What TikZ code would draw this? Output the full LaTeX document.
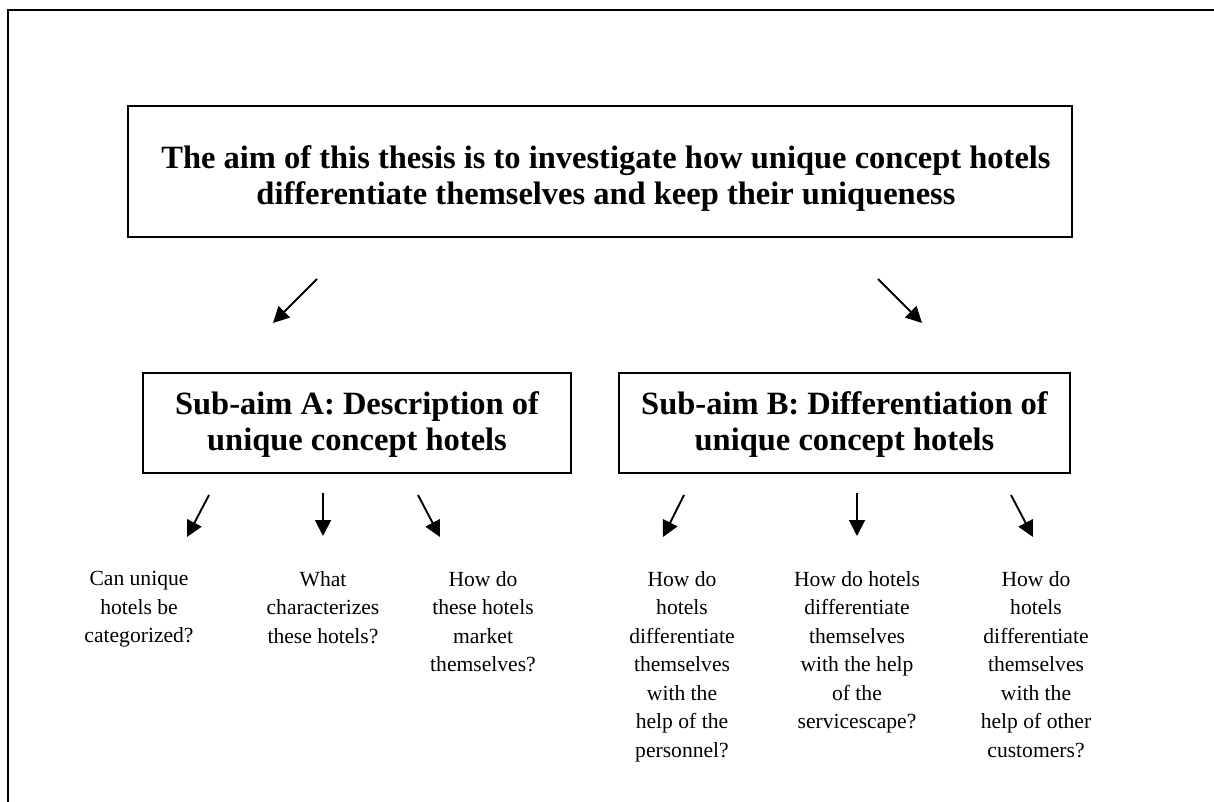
\documentclass[tikz,border=0pt]{standalone}
\usepackage{fontspec}
\setmainfont{Liberation Serif}
\usetikzlibrary{arrows.meta}
\begin{document}
\begin{tikzpicture}[x=1pt,y=-1pt,
  boxnode/.style={draw,line width=1.8pt,inner sep=0pt},
  boxtext/.style={align=center,inner sep=0pt,
    font=\fontsize{32.5}{36}\selectfont\bfseries},
  qnode/.style={align=center,inner sep=0pt,anchor=north,
    font=\fontsize{21.6}{28.5}\selectfont},
  arr/.style={line width=1.9pt,-{Triangle[length=16pt,width=16pt]}}]
\useasboundingbox (0,0) rectangle (1214,802);
\draw[line width=2.4pt] (1214,10) -- (8,10) -- (8,802);
\node[boxnode,minimum width=944pt,minimum height=131pt] (aim) at (600,171.5) {};
\node[boxtext] (aimtext) at ([xshift=6pt,yshift=-7pt]aim.center)
  {The aim of this thesis is to investigate how unique concept hotels\\differentiate themselves and keep their uniqueness};
\node[boxnode,minimum width=428pt,minimum height=100pt] (suba) at (357,423) {};
\node[boxtext] (subatext) at ([yshift=-2pt]suba.center)
  {Sub-aim A: Description of\\unique concept hotels};
\node[boxnode,minimum width=451pt,minimum height=100pt] (subb) at (844.5,423) {};
\node[boxtext] (subbtext) at ([yshift=-2pt]subb.center)
  {Sub-aim B: Differentiation of\\unique concept hotels};
\coordinate (a1s) at (317,279); \coordinate (a1e) at (273,323);
\coordinate (a2s) at (878,279); \coordinate (a2e) at (922,323);
\draw[arr] (a1s) -- (a1e);
\draw[arr] (a2s) -- (a2e);
\node[qnode] (q1) at (139,571) {Can unique\\hotels be\\categorized?};
\node[qnode] (q2) at (323,571) {What\\characterizes\\these hotels?};
\node[qnode] (q3) at (483,571) {How do\\these hotels\\market\\themselves?};
\node[qnode] (q4) at (682,571) {How do\\hotels\\differentiate\\themselves\\with the\\help of the\\personnel?};
\node[qnode] (q5) at (857,571) {How do hotels\\differentiate\\themselves\\with the help\\of the\\servicescape?};
\node[qnode] (q6) at (1036,571) {How do\\hotels\\differentiate\\themselves\\with the\\help of other\\customers?};
\coordinate (b1s) at (209,495); \coordinate (b1e) at (187,537);
\coordinate (b2s) at (323,493); \coordinate (b2e) at (323,536);
\coordinate (b3s) at (418,495); \coordinate (b3e) at (440,537);
\coordinate (b4s) at (684,495); \coordinate (b4e) at (663,537);
\coordinate (b5s) at (857,493); \coordinate (b5e) at (857,536);
\coordinate (b6s) at (1011,495); \coordinate (b6e) at (1033,537);
\foreach \i in {1,...,6} {\draw[arr] (b\i s) -- (b\i e);}
\end{tikzpicture}
\end{document}
